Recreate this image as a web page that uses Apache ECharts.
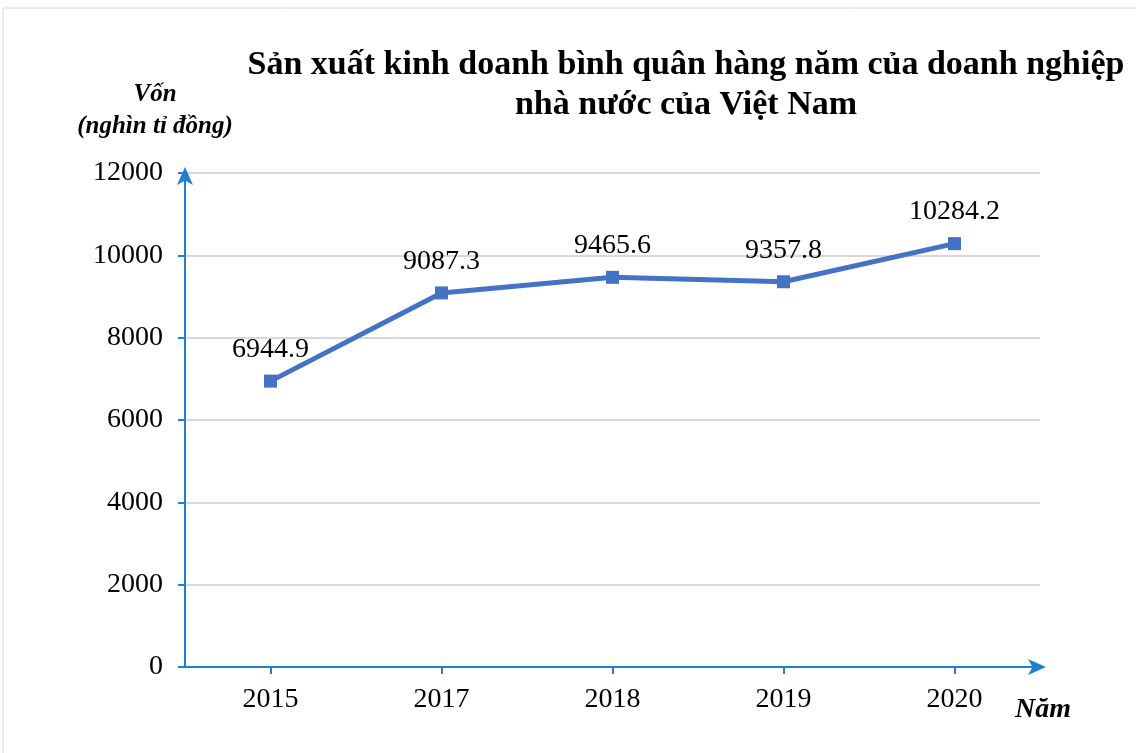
<!DOCTYPE html>
<html><head><meta charset="utf-8">
<script src="https://cdn.jsdelivr.net/npm/echarts@6/dist/echarts.min.js"></script>
<style>html,body{margin:0;padding:0;background:#fff}#c{width:1136px;height:753px}</style>
</head><body><div id="c"></div>
<script>
const categories = ['2015','2017','2018','2019','2020'];
const values = [6944.9, 9087.3, 9465.6, 9357.8, 10284.2];
const yTicks = [0, 2000, 4000, 6000, 8000, 10000, 12000];
const titleText = 'Sản xuất kinh doanh bình quân hàng năm của doanh nghiệp\nnhà nước của Việt Nam';
const yName = 'Vốn\n(nghìn tỉ đồng)';
const xName = 'Năm';

const serif = '"Liberation Serif","Times New Roman",serif';
const axisBlue = '#1f7fd1';
const chart = echarts.init(document.getElementById('c'));
chart.setOption({
  backgroundColor: '#fff',
  animation: false,
  graphic: [
    {type:'rect', shape:{x:3,y:8,width:1140,height:760}, style:{fill:'none', stroke:'#d8d8d8', lineWidth:1}, silent:true},
    {type:'text', left: null, x: 155, y: 79, style:{text: yName, fill:'#000', font: 'italic bold 25px ' + serif, textAlign:'center', textVerticalAlign:'top', lineHeight: 32}},
    {type:'text', x: 1043, y: 710, style:{text: xName, fill:'#000', font: 'italic bold 28px ' + serif, textAlign:'center', textVerticalAlign:'middle'}}
  ],
  title: {
    text: titleText, left: 681, top: 40, textAlign: 'center',
    textStyle: {fontFamily: serif, fontWeight: 'bold', fontSize: 34, color: '#000', lineHeight: 40}
  },
  grid: {left: 185, right: 96, top: 173, bottom: 86, containLabel: false},
  xAxis: {
    type: 'category', data: categories, boundaryGap: true,
    axisLine: {show: true, symbol: ['none','arrow'], symbolSize: [12, 18], symbolOffset: [0, 6], lineStyle: {color: axisBlue, width: 2}},
    axisTick: {show: true, alignWithLabel: true, length: 7, lineStyle: {color: axisBlue, width: 2}},
    axisLabel: {fontFamily: serif, fontSize: 28, color: '#000', margin: 19},
    splitLine: {show: false}
  },
  yAxis: {
    type: 'value', min: 0, max: 12000, interval: 2000,
    axisLine: {show: true, symbol: ['none','arrow'], symbolSize: [12, 18], symbolOffset: [0, 6], lineStyle: {color: axisBlue, width: 2}},
    axisTick: {show: true, length: 7, lineStyle: {color: axisBlue, width: 2}},
    axisLabel: {fontFamily: serif, fontSize: 28, color: '#000', margin: 22, formatter: v => yTicks.includes(v) ? String(v) : ''},
    splitLine: {show: true, lineStyle: {color: '#d9d9d9', width: 2}}
  },
  series: [{
    type: 'line', data: values,
    lineStyle: {color: '#4472c4', width: 5},
    itemStyle: {color: '#4472c4'},
    symbol: 'rect', symbolSize: 13,
    label: {show: true, position: 'top', distance: 11, fontFamily: serif, fontSize: 28, color: '#000', formatter: p => values[p.dataIndex].toFixed(1)}
  }]
});
</script></body></html>
